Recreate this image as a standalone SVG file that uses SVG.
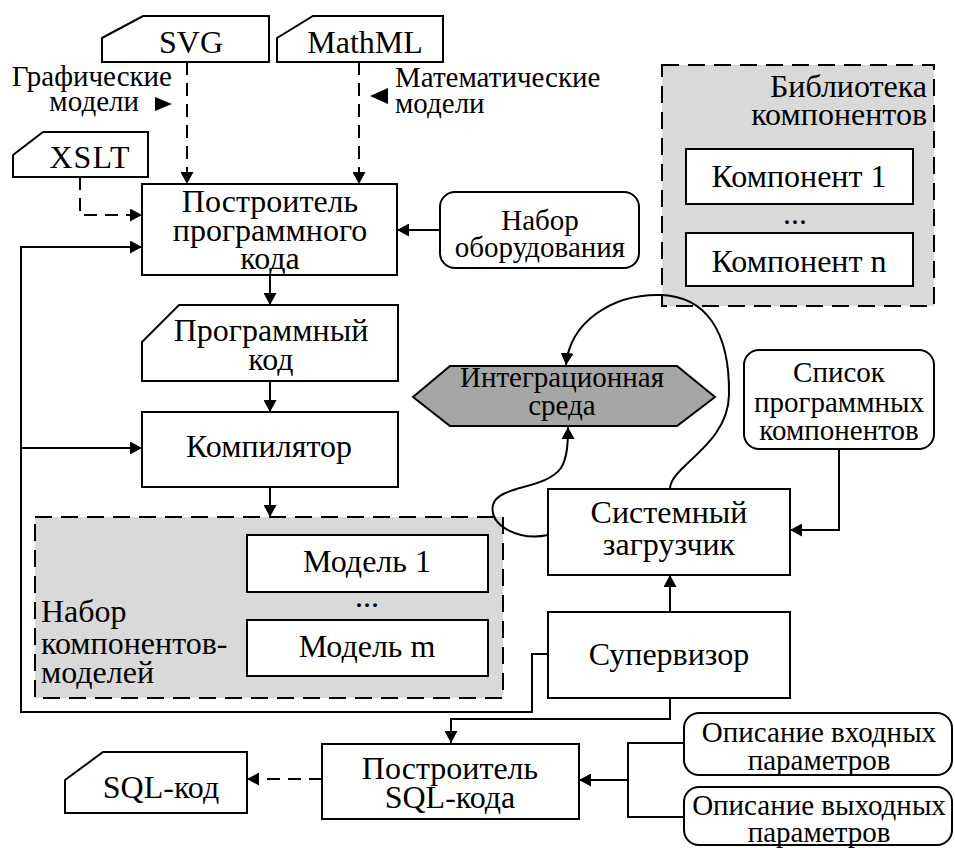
<svg xmlns="http://www.w3.org/2000/svg" width="955" height="848" viewBox="0 0 955 848">
<style>
.box{fill:#fff;stroke:#000;stroke-width:2}
.grp{fill:#d9d9d9;stroke:#000;stroke-width:2;stroke-dasharray:17 9}
.hex{fill:#a6a6a6;stroke:#000;stroke-width:2}
.t{font-family:"Liberation Serif","Times New Roman",serif;font-size:32px;fill:#000;text-anchor:middle}
.s{font-size:29px}
.lbl{font-family:"Liberation Serif","Times New Roman",serif;font-size:29px;fill:#000}
.c{fill:none;stroke:#000;stroke-width:2}
.d{stroke-dasharray:13 8}
</style>
<defs>
<marker id="ah" markerUnits="userSpaceOnUse" markerWidth="13" markerHeight="13" refX="12" refY="6.5" orient="auto">
<path d="M0,0 L12,6.5 L0,13 z" fill="#000"/>
</marker>
</defs>
<g id="lib">
<rect class="grp" x="662" y="65" width="272" height="241"/>
<text class="t" x="927" y="97" style="text-anchor:end">Библиотека</text>
<text class="t" x="927" y="125" style="text-anchor:end">компонентов</text>
<rect class="box" x="686" y="149" width="227" height="55"/>
<text class="t" x="799" y="187">Компонент 1</text>
<text class="t" x="795" y="224">...</text>
<rect class="box" x="686" y="233" width="227" height="53"/>
<text class="t" x="799" y="272">Компонент n</text>
</g>
<g id="models">
<rect class="grp" x="35" y="517" width="468" height="181"/>
<rect class="box" x="247" y="535" width="241" height="57"/>
<text class="t" x="367" y="572">Модель 1</text>
<text class="t" x="367" y="607">...</text>
<rect class="box" x="247" y="620" width="241" height="56"/>
<text class="t" x="367" y="657">Модель m</text>
<text class="t" x="41" y="622" style="text-anchor:start">Набор</text>
<text class="t" x="41" y="654" style="text-anchor:start">компонентов-</text>
<text class="t" x="41" y="683" style="text-anchor:start">моделей</text>
</g>
<g id="connectors">
<path class="c d" d="M187 62 V184" marker-end="url(#ah)"/>
<path class="c d" d="M359 62 V184" marker-end="url(#ah)"/>
<path class="c d" d="M80 177 V215 H142" marker-end="url(#ah)"/>
<path class="c" d="M440 230 H397" marker-end="url(#ah)"/>
<path class="c" d="M270 275 V305" marker-end="url(#ah)"/>
<path class="c" d="M270 381 V412" marker-end="url(#ah)"/>
<path class="c" d="M270 487 V517" marker-end="url(#ah)"/>
<path class="c" d="M548 654 H532 V712 H21 V247 H142" marker-end="url(#ah)"/>
<path class="c" d="M21 448 H142" marker-end="url(#ah)"/>
<path class="c" d="M670 612 V575" marker-end="url(#ah)"/>
<path class="c" d="M839 449 V530 H790" marker-end="url(#ah)"/>
<path class="c" d="M670 698 V719 H451 V743" marker-end="url(#ah)"/>
<path class="c d" d="M322 779 H247" marker-end="url(#ah)"/>
<path class="c" d="M684 743 H628 V817 H684 M628 780 H579" marker-end="url(#ah)"/>
<path class="c" d="M670 488 C672 465 728 445 729 395 C730 330 705 296 660 295 C612 294 570 322 566 365" marker-end="url(#ah)"/>
<path class="c" d="M548 535 C520 541 488 526 493 505 C498 485 545 490 561 468 C567 458 568 445 568 427" marker-end="url(#ah)"/>
<polygon points="155,97 172,104 155,111" fill="#000"/>
<polygon points="388,88 370,96 388,104" fill="#000"/>
</g>
<g id="svg">
<path class="box" d="M102 38 L143 16 H269 V62 H102 Z"/>
<text class="t" x="191" y="53">SVG</text>
</g>
<g id="mathml">
<path class="box" d="M277 38 L313 16 H443 V62 H277 Z"/>
<text class="t" x="365" y="53">MathML</text>
</g>
<g id="xslt">
<path class="box" d="M13 155 L43 132 H148 V177 H13 Z"/>
<text class="t" x="90" y="168" style="letter-spacing:1px">XSLT</text>
</g>
<g id="lbl1">
<text class="lbl" x="172" y="86" text-anchor="end">Графические</text>
<text class="lbl" x="139" y="111" text-anchor="end">модели</text>
</g>
<g id="lbl2">
<text class="lbl" x="395" y="87">Математические</text>
<text class="lbl" x="395" y="113">модели</text>
</g>
<g id="builder">
<rect class="box" x="142" y="184" width="255" height="91"/>
<text class="t" x="270" y="212">Построитель</text>
<text class="t" x="270" y="241">программного</text>
<text class="t" x="270" y="269">кода</text>
</g>
<g id="equip">
<rect class="box" x="440" y="192" width="199" height="76" rx="15"/>
<text class="t s" x="540" y="230">Набор</text>
<text class="t s" x="540" y="257">оборудования</text>
</g>
<g id="progcode">
<path class="box" d="M142 342 L179 305 H398 V381 H142 Z"/>
<text class="t" x="271" y="341">Программный</text>
<text class="t" x="271" y="370">код</text>
</g>
<g id="compiler">
<rect class="box" x="142" y="412" width="256" height="75"/>
<text class="t" x="269" y="457">Компилятор</text>
</g>
<g id="ide">
<polygon class="hex" points="413,397 450,366 677,366 715,397 677,426 450,426"/>
<text class="t s" x="562" y="387">Интеграционная</text>
<text class="t s" x="562" y="415">среда</text>
</g>
<g id="loader">
<rect class="box" x="548" y="489" width="242" height="86"/>
<text class="t" x="669" y="523">Системный</text>
<text class="t" x="669" y="555">загрузчик</text>
</g>
<g id="proglist">
<rect class="box" x="744" y="350" width="190" height="99" rx="15"/>
<text class="t s" x="839" y="382">Список</text>
<text class="t s" x="839" y="412">программных</text>
<text class="t s" x="839" y="440">компонентов</text>
</g>
<g id="supervisor">
<rect class="box" x="548" y="612" width="242" height="86"/>
<text class="t" x="669" y="665">Супервизор</text>
</g>
<g id="sqlbuilder">
<rect class="box" x="322" y="744" width="257" height="75"/>
<text class="t" x="450" y="779">Построитель</text>
<text class="t" x="450" y="808">SQL-кода</text>
</g>
<g id="sqlcode">
<path class="box" d="M65 780 L103 752 H247 V813 H65 Z"/>
<text class="t" x="161" y="798">SQL-код</text>
</g>
<g id="inparams">
<rect class="box" x="684" y="713" width="268" height="62" rx="15"/>
<text class="t s" x="819" y="742">Описание входных</text>
<text class="t s" x="819" y="770">параметров</text>
</g>
<g id="outparams">
<rect class="box" x="684" y="787" width="268" height="58" rx="15"/>
<text class="t s" x="819" y="815">Описание выходных</text>
<text class="t s" x="819" y="842">параметров</text>
</g>
</svg>
